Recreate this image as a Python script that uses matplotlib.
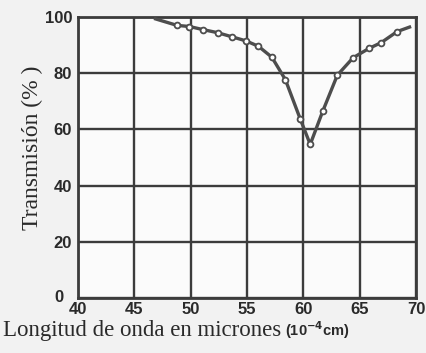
import matplotlib
matplotlib.use('Agg')
from matplotlib import pyplot as plt
from matplotlib import transforms

# measured points (open circles)
wavelength = [48.8, 49.9, 51.1, 52.4, 53.7, 54.9, 56.0, 57.2, 58.4, 59.7,
              60.6, 61.7, 63.0, 64.4, 65.8, 66.9, 68.3]
transmission = [97.0, 96.6, 95.5, 94.4, 92.9, 91.5, 89.6, 85.7, 77.7, 63.9,
                54.7, 66.4, 79.3, 85.5, 88.8, 90.9, 94.8]

# curve end points (no marker)
curve_start = (46.9, 99.3)
curve_end = (69.4, 96.4)

xticks = [40, 45, 50, 55, 60, 65, 70]
yticks = [0, 20, 40, 60, 80, 100]

ink = '#3c3c3c'

fig = plt.figure(figsize=(4.27, 3.53), dpi=100, facecolor='#f2f2f2')
ax = fig.add_axes([0.182, 0.155, 0.793, 0.797], facecolor='#fbfbfb')

curve_x = [curve_start[0]] + wavelength + [curve_end[0]]
curve_y = [curve_start[1]] + transmission + [curve_end[1]]
ax.plot(curve_x, curve_y, color='#4d4d4d', lw=2.4, zorder=3)
ax.plot(wavelength, transmission, ls='none', marker='o', ms=4.2,
        mfc='white', mec='#4d4d4d', mew=1.3, zorder=4)

ax.set_xlim(40, 70)
ax.set_ylim(0, 100)
ax.set_xticks(xticks)
ax.set_yticks(yticks)
ax.grid(True, color=ink, lw=1.7)
ax.set_axisbelow(True)
for s in ax.spines.values():
    s.set_color(ink)
    s.set_linewidth(2.0)
ax.tick_params(length=0, colors='#2a2a2a')
ax.tick_params(axis='x', pad=3)
ax.tick_params(axis='y', pad=4)
for lab in ax.get_xticklabels() + ax.get_yticklabels():
    lab.set_fontfamily('Liberation Sans')
    lab.set_fontweight('bold')
    lab.set_fontsize(12)

# the "0" sits a little left and up, clear of the "40"
zero = ax.get_yticklabels()[0]
zero.set_transform(zero.get_transform() +
                   transforms.ScaledTranslation(-6 / 72, 2 / 72, fig.dpi_scale_trans))

fig.text(0.075, 0.58, 'Transmisión (% )', family='Liberation Serif', fontsize=17,
         color='#2a2a2a', rotation=90, ha='center', va='center')
fig.text(0.008, 0.048, 'Longitud de onda en micrones', family='Liberation Serif',
         fontsize=16.5, color='#2a2a2a', ha='left', va='baseline')
fig.text(0.668, 0.048, '(10$^{\\mathbf{-4}}$cm)', family='Liberation Sans',
         fontweight='bold', fontsize=10.5, color='#2a2a2a', ha='left', va='baseline')

fig.savefig('out.png', dpi=100, facecolor=fig.get_facecolor())
